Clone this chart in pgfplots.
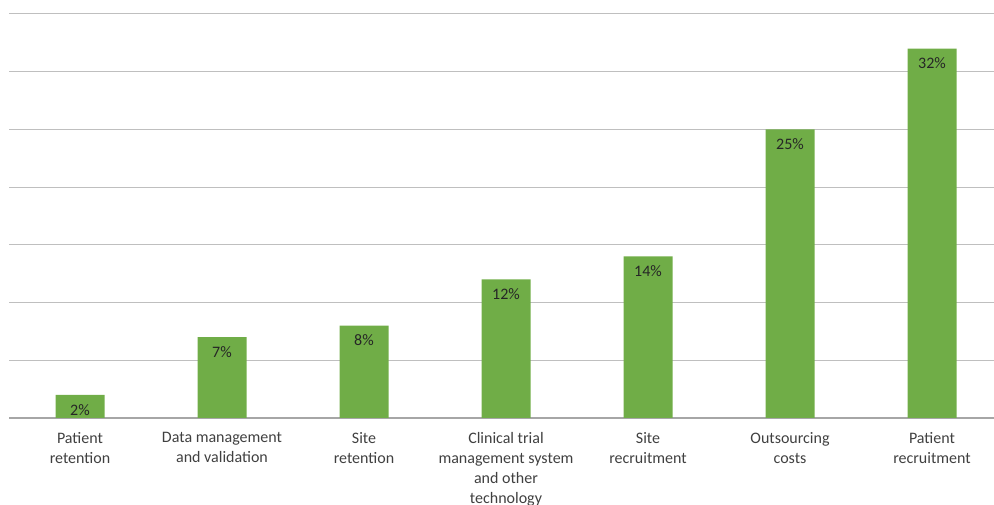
\documentclass[border=0pt]{standalone}
\usepackage{pgfplots}
\pgfplotsset{compat=1.18}
\usepackage{fontspec}
\setmainfont{Carlito}
\definecolor{bargreen}{HTML}{70AD47}
\definecolor{gridgray}{HTML}{BFBFBF}
\definecolor{basegray}{HTML}{A6A6A6}
\definecolor{labgray}{HTML}{404040}
\begin{document}
\begin{tikzpicture}[x=0.75pt,y=0.75pt]
\clip (-9,-87) rectangle (985,14+404);
\begin{axis}[
  at={(0,0)}, anchor=south west,
  scale only axis,
  width=745.5pt, height=303pt,
  xmin=-0.5, xmax=6.5,
  ymin=0, ymax=35,
  ytick={0,5,...,35},
  yticklabels={},
  ymajorgrids,
  grid style={gridgray, line width=0.75pt},
  extra y ticks={0},
  extra y tick style={grid style={basegray, line width=0.9pt}},
  extra y tick labels={},
  axis line style={draw=none},
  major tick length=0pt,
  xtick={0,...,6},
  xticklabels={{Patient\\retention},{Data management\\and validation},{Site\\retention},{Clinical trial\\management system\\and other\\technology},{Site\\recruitment},{Outsourcing\\costs},{Patient\\recruitment}},
  xticklabel style={align=center, font=\fontsize{12}{15}\selectfont, text=labgray, anchor=north, yshift=-7.5pt},
  ybar, bar width=36.75pt,
  /pgf/number format/assume math mode=true,
  nodes near coords={\pgfmathprintnumber{\pgfplotspointmeta}\%},
  nodes near coords style={anchor=north, font=\fontsize{12}{14}\selectfont, text=black!85, yshift=-3.5pt},
]
\addplot[fill=bargreen, draw=none] coordinates {(0,2) (1,7) (2,8) (3,12) (4,14) (5,25) (6,32)};
\end{axis}
\end{tikzpicture}
\end{document}
